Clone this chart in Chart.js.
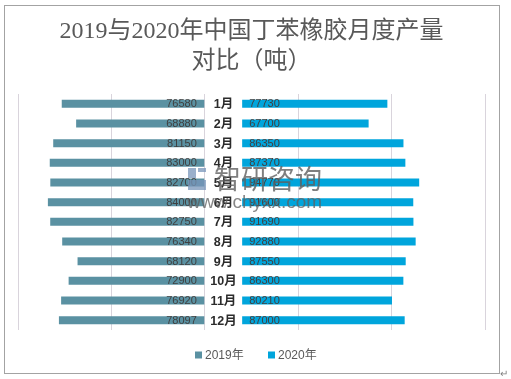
<!DOCTYPE html>
<html><head><meta charset="utf-8">
<script src="https://cdn.jsdelivr.net/npm/chart.js@4"></script>
<style>
html,body{margin:0;padding:0;background:#fff;}
#wrap{position:relative;width:511px;height:379px;overflow:hidden;}
#frame{position:absolute;left:4px;top:5px;width:494px;height:367px;border:1px solid #a3a3a3;}
canvas{position:absolute;left:0;top:0;}
</style></head><body>
<div id="wrap"><div id="frame"></div><canvas id="c" width="511" height="379"></canvas></div>
<script>
const titleLines = ['2019与2020年中国丁苯橡胶月度产量', '对比（吨）'];
const months = ['1月','2月','3月','4月','5月','6月','7月','8月','9月','10月','11月','12月'];
const seriesNames = ['2019年', '2020年'];
const values2019 = [76580, 68880, 81150, 83000, 82700, 84000, 82750, 76340, 68120, 72900, 76920, 78097];
const values2020 = [77730, 67700, 86350, 87370, 94770, 91600, 91690, 92880, 87550, 86300, 80210, 87000];
const labelGap = 20000;
const axisMin = -100000, axisMax = 150000, axisStep = 50000;
const colors = ['#5A91A2', '#00A5DC'];

const annot = {
  id: 'annot',
  afterDatasetsDraw(chart) {
    const ctx = chart.ctx, xs = chart.scales.x, ys = chart.scales.y;
    ctx.save();
    ctx.textBaseline = 'middle';
    months.forEach((m, i) => {
      const py = ys.getPixelForValue(i);
      ctx.font = '11px "Liberation Sans", Arial, sans-serif';
      ctx.fillStyle = '#404040';
      ctx.textAlign = 'right';
      ctx.fillText(String(values2019[i]), xs.getPixelForValue(0) - 8, py + 0.5);
      ctx.textAlign = 'left';
      ctx.fillText(String(values2020[i]), xs.getPixelForValue(labelGap) + 7, py + 0.5);
      ctx.font = 'bold 12.5px "Liberation Sans", "Noto Sans CJK SC", sans-serif';
      ctx.fillStyle = '#2b2b2b';
      ctx.textAlign = 'center';
      ctx.fillText(m, xs.getPixelForValue(labelGap / 2), py + 1);
    });
    // legend
    ctx.font = '12px "Liberation Sans", "Noto Sans CJK SC", sans-serif';
    ctx.textAlign = 'left';
    const legendY = 355;
    const legendX = [195, 268];
    seriesNames.forEach((n, k) => {
      ctx.fillStyle = colors[k];
      ctx.fillRect(legendX[k], legendY - 3.5, 7, 7);
      ctx.fillStyle = '#595959';
      ctx.fillText(n, legendX[k] + 10, legendY + 0.5);
    });
    ctx.restore();
  },
  afterDraw(chart) {
    const ctx = chart.ctx;
    ctx.save();
    // watermark
    ctx.fillStyle = 'rgba(120,150,185,0.75)';
    ctx.fillRect(188, 168, 8, 10);
    ctx.fillRect(198, 168, 8, 4);
    ctx.fillRect(188, 180, 18, 10);
    ctx.fillStyle = 'rgba(95,95,95,0.8)';
    ctx.font = '27px "Noto Sans CJK SC", sans-serif';
    ctx.textBaseline = 'middle';
    ctx.textAlign = 'left';
    ctx.fillText('智研咨询', 214, 179);
    ctx.font = '19px "Liberation Sans", Arial, sans-serif';
    ctx.fillStyle = 'rgba(95,95,95,0.75)';
    ctx.textBaseline = 'alphabetic';
    ctx.fillText('www.chyxx.com', 187, 208);
    ctx.fillStyle = '#7f7f7f';
    ctx.font = '10px "Liberation Sans", sans-serif';
    ctx.fillText('↵', 500, 377);
    ctx.restore();
  }
};

new Chart(document.getElementById('c'), {
  type: 'bar',
  data: {
    labels: months,
    datasets: [
      { label: seriesNames[0], data: values2019.map(v => [-v, 0]), backgroundColor: colors[0], grouped: false },
      { label: seriesNames[1], data: values2020.map(v => [labelGap, labelGap + v]), backgroundColor: colors[1], grouped: false }
    ]
  },
  options: {
    indexAxis: 'y',
    responsive: false,
    animation: false,
    devicePixelRatio: 1,
    barPercentage: 0.41,
    categoryPercentage: 1,
    layout: { padding: { left: 18, right: 26, top: 0, bottom: 49 } },
    scales: {
      x: {
        min: axisMin, max: axisMax,
        ticks: { stepSize: axisStep, display: false },
        grid: { color: '#d9d4dc', drawTicks: false, lineWidth: 1 },
        border: { display: false }
      },
      y: { display: false }
    },
    plugins: {
      legend: { display: false },
      tooltip: { enabled: false },
      title: {
        display: true,
        text: titleLines,
        color: '#595959',
        font: { family: '"Liberation Serif", "Noto Sans CJK SC", serif', size: 24, weight: 'normal', lineHeight: 1.25 },
        padding: { top: 17, bottom: 17 }
      }
    }
  },
  plugins: [annot]
});
</script>
</body></html>
